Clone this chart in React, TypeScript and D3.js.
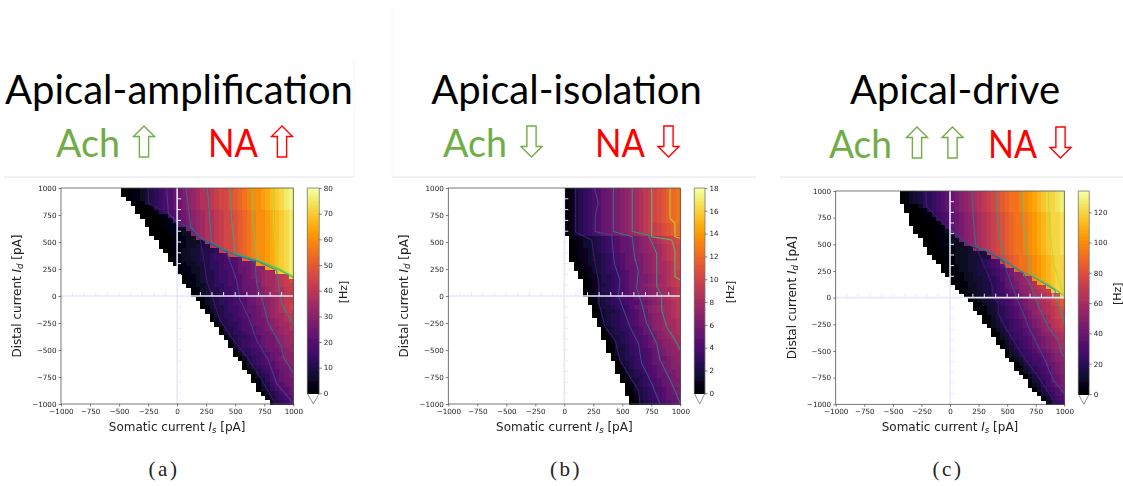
import React, { useEffect, useRef } from 'react';
import * as d3 from 'd3';

// firing rate maps, one string per row from Id=1000 down to Id=-1000
// each char is a base-36 level, strings are right aligned on the 50 column grid
const rowsA = [
  '001123456789abcdeffghiijklmnoopqrstuv',
  '001123456789abcdeffghiijklmnoopqrstuv',
  '01123456789abcdeffghiijklmnoopqrstuv',
  '0013456789abcdeffghiijklmnoopqrstuv',
  '000156789abcdeffghiijklmnoopqrstuv',
  '0000156789abcdeffghiijklmnoopqrstu',
  '000011789abcdeffghiijklmnoopqrstu',
  '00001189abcdeffghiijklmnoopqrstu',
  '00001119abcdeffghiijklmnoopqrstu',
  '00001112bcdeffghiijklmnoopqrstu',
  '000011122cdeffghiijklmnoopqrstu',
  '000011122deffghiijklmnoopqrstu',
  '0001112223ffghiijklmnoopqrstu',
  '00011122334fghiijklmnoopqrstu',
  '001122334445hiijklmnoopqrstu',
  '0112233445667ijklmnoopqrstu',
  '0112233445667889lmnoopqrstu',
  '011223345567789aaboopqrstu',
  '011223455677899abccpqrstu',
  '011223445667899abcdeerstu',
  '01123445667889abcdeefght',
  '01123445667789aacdeefghi',
  '0122345567789aabdeefghh',
  '0123445667899abcdeffgh',
  '0123445667889abcdeefgh',
  '012345567789abccdefgh',
  '02345567789abbcdefgh',
  '013445667899abcdefgi',
  '02345667899abcdefgh',
  '0345567889abcdeefg',
  '0244566789aabcdefg',
  '034556789aabcdeef',
  '044567789abccdef',
  '034556789aabcdee',
  '034556789aaccde',
  '14566789aabcde',
  '03566789aabcdd',
  '14556789aabcd',
  '024566789aacc',
  '02456789abcc',
  '03567889abc',
  '02456789aab',
  '02456889ab',
  '0245789ab',
  '0135789aa',
  '1346889a',
  '02357889',
  '1245789',
  '135678',
  '24568',
];

const rowsB = [
  '02356789abccdefghijklmnop',
  '02356789abccdefghijklmnop',
  '02356789abccdefghijklmnop',
  '02356789abccdefghijklmnop',
  '02356789abccdefghijklmnop',
  '02356789abccdefghijklmnop',
  '02356789abccdefghijklmnop',
  '02356789abccdefghijklmnop',
  '02356789abccdefghijjklmno',
  '02356789abccdefghijjklmno',
  '02356789abccdefghijjklmno',
  '12233456789aabcdefghijkl',
  '01233456789aabcdefghijkl',
  '01233456789aabcdeffghijk',
  '01223456789aabcdeffghijk',
  '012234456789abccdefghijk',
  '012234456789abccdefghijk',
  '01233456789abbcdefgghik',
  '01223456779aabcdefgghik',
  '01234566789abcdefgghij',
  '01223556789abccdefghij',
  '0123556789abccdefghij',
  '0123456789abcdefgghij',
  '0123556789abccdefgghi',
  '0123456789abccdefgghi',
  '0234567889abcdefghii',
  '01345667899abcdefghi',
  '024456679abcdefgghi',
  '0134456789abdefgghi',
  '0134556789abcdefghi',
  '034556789abcdefggh',
  '024556789aacdefggh',
  '034566789abdeffgh',
  '024556789abcdefgh',
  '0134567889abdefgg',
  '024567889accdefg',
  '014456789abcddef',
  '0134567889accdef',
  '034567789abcdee',
  '024556789abbcde',
  '03456789aaccde',
  '024567889abcdd',
  '013456789abccd',
  '02455689aabcd',
  '013456789abcc',
  '02456789abcd',
  '013456789abc',
  '012456789abc',
  '02456789aab',
  '013456789ab',
];

const rowsC = [
  '01234556789abcdefghijklmnnopqrstuuvw',
  '01234556789abcdefghijklmnnopqrstuuvw',
  '01234556789abcdefghijklmnnopqrstuuvw',
  '0112556789abcdefghijklmnnopqrstuuvw',
  '0001156789abcdefghijklmnnopqrstuuvw',
  '0001156789abcdefghijklmnnopqrstuuv',
  '0001116789abcdefghijklmnnopqrstuuv',
  '0000111789abcdefghijklmnnopqrstuuv',
  '000011189abcdefghijklmnnopqrstuuv',
  '000011129abcdefghijklmnnopqrstuuv',
  '00001112abcdefghijklmnnopqrstuuv',
  '00011122bcdefghijklmnnopqrstuuv',
  '000111222cdefghijklmnnopqrstuuv',
  '0001112223efghijklmnnopqrstuuv',
  '0001112223334hijklmnnopqrstuuv',
  '0011122233344hijklmnnopqrstuu',
  '00112223345678jklmnnopqrstuu',
  '00112233456789klmnnopqrstuu',
  '001122334456789bmnnopqrstuu',
  '00112234456789bcdnopqrstuu',
  '0112233455689acdefpqrstuu',
  '0011223445679abdefgqrstuu',
  '011223445679abcdeghistuu',
  '012234456789acdefghituu',
  '01233456678abcdffghiku',
  '01233466789abdefghikl',
  '0123346789abcdffgijl',
  '01123456789bcdefghik',
  '0123456789abdefghij',
  '012456789abcdefhij',
  '0123556789abcefghi',
  '023456789abcdeghi',
  '023567789abdefgh',
  '013456789abcdefg',
  '02356778aabcdfg',
  '012456789abcdef',
  '02356789abcdef',
  '13456789abcde',
  '023566789abcd',
  '02356778abcd',
  '0245678aabc',
  '01345678abc',
  '0245678abc',
  '0245679ab',
  '134579ab',
  '023578ab',
  '124678a',
  '134689',
  '13578',
  '2467',
];

// contour lines, [Is, Id] in pA
const contoursA: [number, [number, number][]][] = [
  [10, [[-250, 1000], [-248, 858], [-76, 765], [-4, 688], [110, 627], [196, 534], [225, 364], [254, 148], [311, -37], [369, -222], [483, -407], [598, -562], [713, -747], [828, -963], [842, -1000]]],
  [20, [[-90, 1000], [-76, 765], [-4, 688], [110, 627], [196, 534], [369, 441], [426, 410], [512, 148], [541, -37], [612, -191], [684, -407], [785, -592], [856, -808], [1000, -994]]],
  [30, [[76, 1000], [116, 642], [196, 540], [369, 447], [483, 386], [670, 320], [684, 117], [742, -68], [785, -253], [900, -469], [914, -562], [1000, -716]]],
  [40, [[260, 1000], [277, 765], [297, 496], [369, 450], [483, 392], [684, 326], [856, 238], [899, -68], [1000, -268]]],
  [50, [[455, 1000], [469, 704], [498, 395], [684, 334], [856, 255], [1000, 172]]],
  [60, [[641, 1000], [655, 642], [684, 342], [856, 264], [1000, 180]]],
  [70, [[822, 1000], [833, 611], [871, 272], [1000, 188]]],
];

const contoursB: [number, [number, number][]][] = [
  [2, [[98, 1000], [98, 590], [236, 519], [265, 303], [299, 117], [299, -68], [351, -284], [437, -407], [480, -592], [566, -747], [638, -870], [653, -1000]]],
  [4, [[259, 1000], [293, 858], [270, 765], [265, 596], [408, 565], [431, 303], [480, 148], [466, 0], [566, -284], [638, -438], [667, -623], [753, -808], [825, -1000]]],
  [6, [[423, 1000], [423, 596], [586, 549], [604, 364], [638, 241], [624, 71], [667, -68], [710, -253], [796, -438], [825, -592], [926, -808], [1000, -994]]],
  [8, [[586, 1000], [586, 596], [724, 565], [796, 395], [796, 87], [839, 9], [839, -129], [882, -284], [954, -407], [1000, -500]]],
  [10, [[753, 1000], [753, 549], [926, 519], [954, 426], [954, 179], [1000, 148]]],
  [12, [[911, 1000], [911, 719], [954, 673], [954, 549], [1000, 534]]],
];

const contoursC: [number, [number, number][]][] = [
  [20, [[-213, 1000], [-204, 853], [0, 634], [160, 494], [233, 463], [291, 322], [364, 134], [379, 9], [422, -53], [422, -147], [481, -272], [554, -397], [641, -553], [772, -741], [903, -959], [918, -1000]]],
  [40, [[0, 1000], [0, 640], [160, 500], [233, 469], [350, 422], [466, 338], [525, 166], [583, -6], [641, -147], [685, -272], [758, -428], [831, -584], [903, -772], [1000, -897]]],
  [60, [[189, 1000], [204, 728], [227, 478], [350, 428], [466, 350], [641, 228], [699, 134], [746, -6], [801, -147], [874, -303], [947, -397], [976, -522], [1000, -553]]],
  [80, [[402, 1000], [414, 791], [437, 541], [475, 356], [583, 272], [758, 176], [874, 100], [918, 72], [947, -53], [1000, -241]]],
  [100, [[627, 1000], [641, 697], [670, 478], [699, 240], [758, 184], [874, 116], [1000, 14]]],
  [120, [[860, 1000], [869, 728], [904, 322], [962, 140], [991, 22], [1000, 18]]],
];

const axisTicks = [-1000, -750, -500, -250, 0, 250, 500, 750, 1000];
const crossTicks = [-900, -800, -700, -600, -500, -400, -300, -200, -100, 100, 200, 300, 400, 500, 600, 700, 800, 900];
const barTicksA = [0, 10, 20, 30, 40, 50, 60, 70, 80];
const barTicksB = [0, 2, 4, 6, 8, 10, 12, 14, 16, 18];
const barTicksC = [0, 20, 40, 60, 80, 100, 120];

const GRID = 50;
const GREEN = '#70ad47';
const RED = '#ff0000';

const panels = [
  { rows: rowsA, unit: 2.5, max: 80, contours: contoursA, barTicks: barTicksA, left: 61, right: 293.3, top: 188, bottom: 404, barLeft: 307.3, barRight: 319.3, barBottom: 393.3, hzX: 347, yLabelX: 21, letter: '(a)', letterX: 164 },
  { rows: rowsB, unit: 0.5, max: 18, contours: contoursB, barTicks: barTicksB, left: 448.3, right: 680.3, top: 188, bottom: 404, barLeft: 694.3, barRight: 705, barBottom: 393.3, hzX: 734, yLabelX: 408, letter: '(b)', letterX: 566 },
  { rows: rowsC, unit: 4, max: 134, contours: contoursC, barTicks: barTicksC, left: 835.7, right: 1064.3, top: 191, bottom: 404.3, barLeft: 1078.3, barRight: 1089.3, barBottom: 394, hzX: 1121, yLabelX: 796, letter: '(c)', letterX: 948 },
];

const headings = [
  { title: 'Apical-amplification', titleX: 179, boxL: 4, boxR: 354,
    items: [{ text: 'Ach', x: 56, w: 64, color: GREEN }, { text: 'NA', x: 208, w: 50, color: RED }],
    arrows: [{ x: 144, up: true, color: GREEN }, { x: 282, up: true, color: RED }], y: 157 },
  { title: 'Apical-isolation', titleX: 566.5, boxL: 392, boxR: 756,
    items: [{ text: 'Ach', x: 443, w: 64, color: GREEN }, { text: 'NA', x: 595, w: 50, color: RED }],
    arrows: [{ x: 531.5, up: false, color: GREEN }, { x: 668.5, up: false, color: RED }], y: 157 },
  { title: 'Apical-drive', titleX: 955, boxL: 780, boxR: 1123,
    items: [{ text: 'Ach', x: 829, w: 63, color: GREEN }, { text: 'NA', x: 988, w: 49, color: RED }],
    arrows: [{ x: 917, up: true, color: GREEN }, { x: 952.5, up: true, color: GREEN }, { x: 1060.5, up: false, color: RED }], y: 158 },
];

// block arrow outline, pointing up around cx
const arrowPath = (cx: number, top: number, w: number, h: number) => {
  const p = d3.path();
  p.moveTo(cx, top);
  p.lineTo(cx + w / 2, top + h * 0.34);
  p.lineTo(cx + w * 0.22, top + h * 0.34);
  p.lineTo(cx + w * 0.22, top + h);
  p.lineTo(cx - w * 0.22, top + h);
  p.lineTo(cx - w * 0.22, top + h * 0.34);
  p.lineTo(cx - w / 2, top + h * 0.34);
  p.closePath();
  return p.toString();
};

const mathLabel = (text: any, before: string, sub: string) => {
  text.append('tspan').text(before);
  text.append('tspan').attr('font-style', 'italic').text('I');
  text.append('tspan').attr('font-size', 8.5).attr('dy', 2).attr('font-style', 'italic').text(sub);
  text.append('tspan').attr('dy', -2).text(' [pA]');
};

const App = () => {
  const ref = useRef<SVGSVGElement>(null);

  useEffect(() => {
    const svg = d3.select(ref.current);
    svg.selectAll('*').remove();

    svg.append('defs').append('filter').attr('id', 'soft')
      .attr('x', '-5%').attr('y', '-5%').attr('width', '110%').attr('height', '110%')
      .append('feGaussianBlur').attr('stdDeviation', 0.45);

    // slide headings above the plots
    headings.forEach((h) => {
      const g = svg.append('g');
      g.append('line').attr('x1', h.boxL).attr('x2', h.boxR).attr('y1', 177).attr('y2', 177)
        .attr('stroke', '#f1f1f1').attr('stroke-width', 2);
      g.append('line').attr('x1', h.boxL === 392 ? 392 : h.boxR).attr('x2', h.boxL === 392 ? 392 : h.boxR)
        .attr('y1', h.boxL === 392 ? 8 : 60).attr('y2', 177)
        .attr('stroke', h.boxR === 1123 ? 'none' : '#f6f6f6').attr('stroke-width', 1);
      g.append('text').attr('x', h.titleX).attr('y', 104).attr('text-anchor', 'middle')
        .attr('font-family', 'Lato').attr('font-size', 40).attr('fill', '#000').text(h.title);
      h.items.forEach((d) => {
        g.append('text').attr('x', d.x).attr('y', h.y).attr('font-family', 'Lato').attr('font-size', 38)
          .attr('textLength', d.w).attr('lengthAdjust', 'spacingAndGlyphs')
          .attr('fill', d.color).text(d.text);
      });
      h.arrows.forEach((a) => {
        const top = h.y - 31;
        g.append('path').attr('d', arrowPath(a.x, top, 21, 31))
          .attr('fill', '#fff').attr('stroke', a.color).attr('stroke-width', 1.4)
          .attr('transform', a.up ? null : `rotate(180 ${a.x} ${top + 15.5})`);
      });
    });

    panels.forEach((p) => {
      const x = d3.scaleLinear().domain([-1000, 1000]).range([p.left, p.right]);
      const y = d3.scaleLinear().domain([-1000, 1000]).range([p.bottom, p.top]);
      const color = d3.scaleSequential(d3.interpolateInferno).domain([0, p.max]);
      const lineColor = d3.scaleSequential(d3.interpolateViridis).domain([-0.5, p.contours.length - 1 + 0.7]);
      const step = 2000 / GRID;

      const cells: { i: number; j: number; v: number }[] = [];
      p.rows.forEach((row, j) => {
        const offset = GRID - row.length;
        row.split('').forEach((c, k) => {
          cells.push({ i: offset + k, j, v: parseInt(c, 36) * p.unit });
        });
      });

      const g = svg.append('g').attr('filter', 'url(#soft)');

      g.append('g').attr('shape-rendering', 'crispEdges').selectAll('rect').data(cells).enter().append('rect')
        .attr('x', (d) => x(-1000 + d.i * step))
        .attr('y', (d) => y(1000 - d.j * step))
        .attr('width', x(step) - x(0) + 0.5)
        .attr('height', y(0) - y(step) + 0.5)
        .attr('fill', (d) => color(d.v));

      const line = d3.line<[number, number]>().x((d) => x(d[0])).y((d) => y(d[1]));
      g.append('g').selectAll('path').data(p.contours).enter().append('path')
        .attr('d', (d) => line(d[1]))
        .attr('fill', 'none')
        .attr('stroke', (d, i) => lineColor(i))
        .attr('stroke-opacity', 0.9)
        .attr('stroke-width', 1.1);

      // zero axes with the small input ticks
      const cross = g.append('g').attr('stroke', '#e8e8fa');
      cross.append('line').attr('x1', x(-1000)).attr('x2', x(1000)).attr('y1', y(0)).attr('y2', y(0)).attr('stroke-width', 1.6);
      cross.append('line').attr('x1', x(0)).attr('x2', x(0)).attr('y1', y(-1000)).attr('y2', y(1000)).attr('stroke-width', 1.6);
      cross.selectAll('.hTick').data(crossTicks).enter().append('line').attr('class', 'hTick')
        .attr('x1', (d) => x(d)).attr('x2', (d) => x(d)).attr('y1', y(0)).attr('y2', y(0) - 4).attr('stroke-width', 1);
      cross.selectAll('.vTick').data(crossTicks).enter().append('line').attr('class', 'vTick')
        .attr('x1', x(0)).attr('x2', x(0) + 4).attr('y1', (d) => y(d)).attr('y2', (d) => y(d)).attr('stroke-width', 1);

      g.append('rect').attr('x', p.left).attr('y', p.top).attr('width', p.right - p.left).attr('height', p.bottom - p.top)
        .attr('fill', 'none').attr('stroke', '#555').attr('stroke-width', 0.8);

      const styleAxis = (a: any) => {
        a.attr('font-family', 'DejaVu Sans').attr('font-size', 7.2);
        a.select('.domain').remove();
        a.selectAll('line').attr('stroke', '#333').attr('stroke-width', 0.6);
        a.selectAll('text').attr('fill', '#222');
      };
      const tickText = d3.format('d');
      g.append('g').attr('transform', `translate(0,${p.bottom})`)
        .call(d3.axisBottom(x).tickValues(axisTicks).tickFormat(tickText).tickSize(2.5).tickPadding(2)).call(styleAxis);
      g.append('g').attr('transform', `translate(${p.left},0)`)
        .call(d3.axisLeft(y).tickValues(axisTicks).tickFormat(tickText).tickSize(2.5).tickPadding(2)).call(styleAxis);

      const labels = g.append('g').attr('font-family', 'DejaVu Sans').attr('font-size', 12).attr('fill', '#222');
      labels.append('text').attr('x', (p.left + p.right) / 2).attr('y', 431).attr('text-anchor', 'middle')
        .call(mathLabel, 'Somatic current ', 's');
      labels.append('text').attr('transform', `translate(${p.yLabelX},${(p.top + p.bottom) / 2}) rotate(-90)`)
        .attr('text-anchor', 'middle').call(mathLabel, 'Distal current ', 'd');

      // colorbar with the under-range triangle
      const bar = d3.scaleLinear().domain([0, p.max]).range([p.barBottom, p.top]);
      const barValues = d3.range(0, p.max, p.max / 128);
      g.append('g').attr('shape-rendering', 'crispEdges').selectAll('rect').data(barValues).enter().append('rect')
        .attr('x', p.barLeft).attr('width', p.barRight - p.barLeft)
        .attr('y', (d) => bar(d + p.max / 128))
        .attr('height', (d) => bar(d) - bar(d + p.max / 128) + 0.5)
        .attr('fill', (d) => color(d));
      const mid = (p.barLeft + p.barRight) / 2;
      g.append('path')
        .attr('d', `M${p.barLeft},${p.top}H${p.barRight}V${p.barBottom}L${mid},${p.bottom}L${p.barLeft},${p.barBottom}Z`)
        .attr('fill', 'none').attr('stroke', '#777').attr('stroke-width', 0.8);
      g.append('g').attr('transform', `translate(${p.barRight},0)`)
        .call(d3.axisRight(bar).tickValues(p.barTicks).tickFormat(tickText).tickSize(2.5).tickPadding(2)).call(styleAxis);
      g.append('text').attr('transform', `translate(${p.hzX},${(p.top + p.bottom) / 2 - 4}) rotate(-90)`)
        .attr('text-anchor', 'middle').attr('font-family', 'DejaVu Sans').attr('font-size', 11).attr('fill', '#222').text('[Hz]');

      svg.append('text').attr('x', p.letterX).attr('y', 476).attr('text-anchor', 'middle')
        .attr('font-family', 'Liberation Serif').attr('font-size', 21).attr('letter-spacing', 2.5).attr('fill', '#222').text(p.letter);
    });
  }, []);

  return <svg ref={ref} width={1123} height={486} style={{ position: 'absolute', left: 0, top: 0, background: '#fff' }} />;
};

export default App;
